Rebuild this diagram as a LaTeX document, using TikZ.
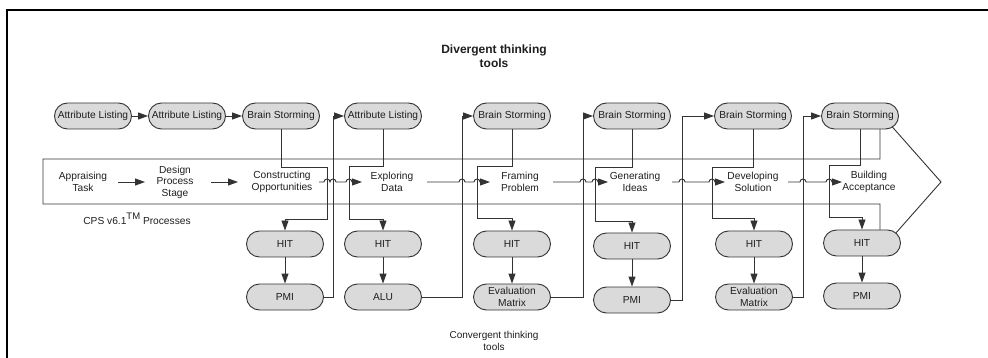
\documentclass[tikz,border=0pt]{standalone}
\usepackage{fontspec}
\setmainfont{Liberation Sans}
\usetikzlibrary{arrows.meta}
\definecolor{ink}{HTML}{333333}
\definecolor{pill}{HTML}{DADADA}
\definecolor{txt}{HTML}{1E1E1E}

\begin{document}
\begin{tikzpicture}[x=1pt,y=-1pt,
  tool/.style={draw=ink, fill=pill, line width=0.9pt, rounded corners=13pt,
    minimum width=77pt, minimum height=26pt, inner sep=1pt,
    font=\fontsize{10.2}{11.5}\selectfont, align=center, text=txt},
  stage/.style={font=\fontsize{10.2}{11.5}\selectfont, align=center,
    inner sep=0pt, text=txt},
  conn/.style={draw=ink, line width=0.9pt},
  arr/.style={conn, -{Triangle[length=10pt,width=7pt]}},
  hop/.style={start angle=180, end angle=360, radius=3},
]
\useasboundingbox (0,0) rectangle (988,358);

% frame
\draw[line width=2.4pt] (7,362) -- (7,10) -- (992,10);

% process band drawn as a broad arrow
\draw[conn] (43,159) -- (880,159) -- (880,113) -- (941,182)
  -- (880,251) -- (880,204) -- (43,204) -- cycle;

% headings
\node[font=\bfseries\fontsize{12}{14}\selectfont, align=center, text=txt]
  (divergent) at (494,56) {Divergent thinking\\tools};
\node[font=\fontsize{10}{12}\selectfont, align=center, text=txt]
  (convergent) at (494,341) {Convergent thinking\\tools};
\node[font=\fontsize{10.2}{12}\selectfont, text=txt]
  (cps) at (137,219) {CPS v6.1\raisebox{4.5pt}{\fontsize{9.5}{10}\selectfont TM} Processes};

% process stages
\node[stage] (s1) at (83,182) {Appraising\\Task};
\node[stage] (s2) at (175,182) {Design\\Process\\Stage};
\node[stage] (s3) at (282,182) {Constructing\\Opportunities};
\node[stage] (s4) at (392,182) {Exploring\\Data};
\node[stage] (s5) at (520,182) {Framing\\Problem};
\node[stage] (s6) at (635,182) {Generating\\Ideas};
\node[stage] (s7) at (753,182) {Developing\\Solution};
\node[stage] (s8) at (869,182) {Building\\Acceptance};

% divergent tools
\node[tool] (al1) at (93,116) {Attribute Listing};
\node[tool] (al2) at (187,116) {Attribute Listing};
\node[tool] (bs1) at (281,116) {Brain Storming};
\node[tool] (al3) at (383,116) {Attribute Listing};
\node[tool] (bs2) at (512,116) {Brain Storming};
\node[tool] (bs3) at (632,116) {Brain Storming};
\node[tool] (bs4) at (753,116) {Brain Storming};
\node[tool] (bs5) at (860,116) {Brain Storming};

% convergent tools
\node[tool] (hit1) at (285,244) {HIT};
\node[tool] (hit2) at (383,244) {HIT};
\node[tool] (hit3) at (512,244) {HIT};
\node[tool] (hit4) at (632,246) {HIT};
\node[tool] (hit5) at (754,244) {HIT};
\node[tool] (hit6) at (862,243) {HIT};
\node[tool] (pmi1) at (285,297) {PMI};
\node[tool] (alu)  at (383,297) {ALU};
\node[tool] (em1)  at (512,297) {Evaluation\\Matrix};
\node[tool] (pmi2) at (632,300) {PMI};
\node[tool] (em2)  at (754,297) {Evaluation\\Matrix};
\node[tool] (pmi3) at (862,296) {PMI};

% stage-to-stage arrows, hopping over the tool links
\draw[arr] ([xshift=35pt]s1.center) -- ([xshift=-30pt]s2.center);
\draw[arr] ([xshift=36pt]s2.center) -- ([xshift=-44pt]s3.center);
\draw[arr] ([xshift=37pt]s3.center) -- (324,182) arc[hop] arc[hop]
  -- (346,182) arc[hop] -- ([xshift=-30pt]s4.center);
\draw[arr] ([xshift=35pt]s4.center) -- (459,182) arc[hop]
  -- (474,182) arc[hop] -- ([xshift=-30pt]s5.center);
\draw[arr] ([xshift=33pt]s5.center) -- (580,182) arc[hop]
  -- (592,182) arc[hop] -- ([xshift=-27pt]s6.center);
\draw[arr] ([xshift=37pt]s6.center) -- (679,182) arc[hop]
  -- (709,182) arc[hop] -- ([xshift=-28pt]s7.center);
\draw[arr] ([xshift=35pt]s7.center) -- (800,182) arc[hop]
  -- (826,182) arc[hop] -- ([xshift=-27pt]s8.center);

% opening chain of divergent tools
\draw[arr] (al1.east) -- (al2.west);
\draw[arr] (al2.east) -- (bs1.west);

% divergent tool down to the matching HIT
\draw[arr] (bs1.south) |- (327,167) -- (327,219) -| (hit1.north);
\draw[arr] (al3.south) |- (349,166) -- (349,219) -| (hit2.north);
\draw[arr] (bs2.south) |- (477,166) -- (477,218) -| (hit3.north);
\draw[arr] (bs3.south) |- (595,167) -- (595,221) -| (hit4.north);
\draw[arr] (bs4.south) |- (712,167) -- (712,218) -| (hit5.north);
\draw[arr] (bs5.south) |- (829,165) -- (829,217) -| (hit6.north);

% HIT to the following convergent tool
\draw[arr] (hit1.south) -- (pmi1.north);
\draw[arr] (hit2.south) -- (alu.north);
\draw[arr] (hit3.south) -- (em1.north);
\draw[arr] (hit4.south) -- (pmi2.north);
\draw[arr] (hit5.south) -- (em2.north);
\draw[arr] (hit6.south) -- (pmi3.north);

% convergent tool back up to the next divergent tool
\draw[arr] (pmi1.east) -| (333,116) -- (al3.west);
\draw[arr] (alu.east)  -| (462,116) -- (bs2.west);
\draw[arr] (em1.east)  -| (583,116) -- (bs3.west);
\draw[arr] (pmi2.east) -| (682,116) -- (bs4.west);
\draw[arr] (em2.east)  -| (803,116) -- (bs5.west);
\end{tikzpicture}
\end{document}
